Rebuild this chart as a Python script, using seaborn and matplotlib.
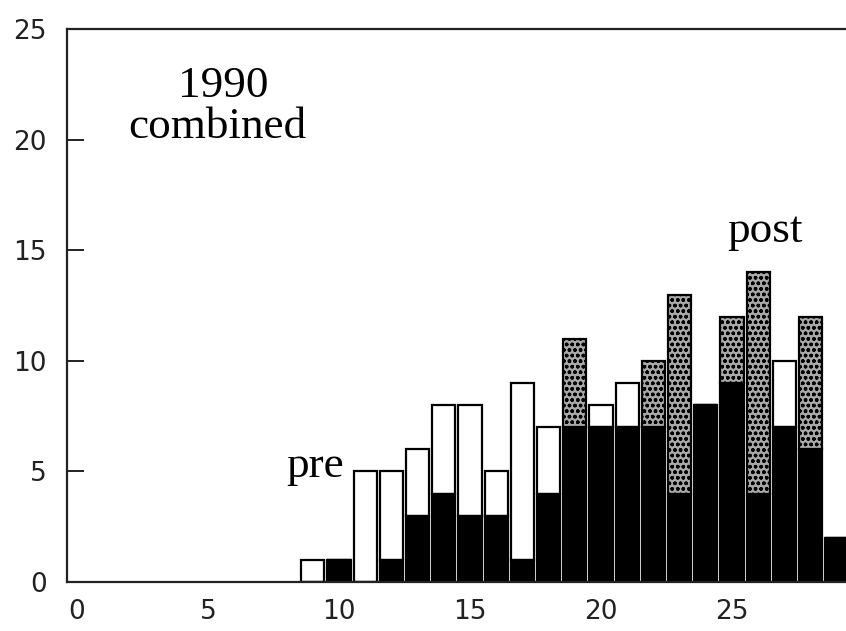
import matplotlib
matplotlib.use("Agg")
import matplotlib.pyplot as plt
import seaborn as sns
import pandas as pd
import numpy as np

# ---- data ----
bins = [9, 10, 11, 12, 13, 14, 15, 16, 17, 18, 19, 20, 21, 22, 23, 24, 25, 26, 27, 28, 29]
both = [0, 1, 0, 1, 3, 4, 3, 3, 1, 4, 7, 7, 7, 7, 4, 8, 9, 4, 7, 6, 2]
pre_only = [1, 0, 5, 4, 3, 4, 5, 2, 8, 3, 0, 1, 2, 0, 0, 0, 0, 0, 3, 0, 0]
post_only = [0, 0, 0, 0, 0, 0, 0, 0, 0, 0, 4, 0, 0, 3, 9, 0, 3, 10, 0, 6, 0]
x_ticks = [0, 5, 10, 15, 20, 25]
y_ticks = [0, 5, 10, 15, 20, 25]

df = pd.DataFrame({"bin": bins, "both": both, "pre": pre_only, "post": post_only})

sns.set_style("white")
plt.rcParams["font.family"] = ["DejaVu Sans"]
plt.rcParams["hatch.linewidth"] = 1.0

fig = plt.figure(figsize=(8.46, 6.31), dpi=100)
ax = fig.add_axes([66.5 / 846, 49 / 631, 1 - 66.5 / 846, (582 - 29.3) / 631])

W = 0.88
common = dict(native_scale=True, width=W, saturation=1, edgecolor="black",
              linewidth=1.6, ax=ax, errorbar=None)

sns.barplot(data=df, x="bin", y="both", color="black", **common)
sns.barplot(data=df, x="bin", y="pre", color="white", bottom=df["both"].values, **common)
sns.barplot(data=df, x="bin", y="post", color="#a8a8a8", bottom=df["both"].values,
            hatch="ooo", **common)

ax.set_xlim(-0.4, 29.35)
ax.set_ylim(0, 25)
ax.set_xticks(x_ticks)
ax.set_yticks(y_ticks)
ax.set_xticklabels([str(v) for v in x_ticks])
ax.set_yticklabels([str(v) for v in y_ticks])
ax.set_xlabel("")
ax.set_ylabel("")

for side in ["left", "bottom", "top"]:
    ax.spines[side].set_visible(True)
    ax.spines[side].set_linewidth(1.6)
    ax.spines[side].set_color("#222222")
ax.spines["right"].set_visible(False)

ax.tick_params(axis="y", left=True, right=False, direction="in", length=12, width=1.4,
               color="#222222", labelsize=19, pad=14, labelcolor="#222222")
ax.tick_params(axis="x", bottom=False, length=0, labelsize=19, pad=12, labelcolor="#222222")

serif = ["Liberation Serif", "DejaVu Serif"]
tk = dict(family=serif, fontsize=32.5, color="black", ha="center", va="baseline")
ax.text(5.6, 21.95, "1990", **tk)
ax.text(5.35, 20.1, "combined", **tk)
ax.text(9.1, 4.75, "pre", **tk)
ax.text(26.25, 15.4, "post", **tk)

fig.savefig("out.png", dpi=100)
